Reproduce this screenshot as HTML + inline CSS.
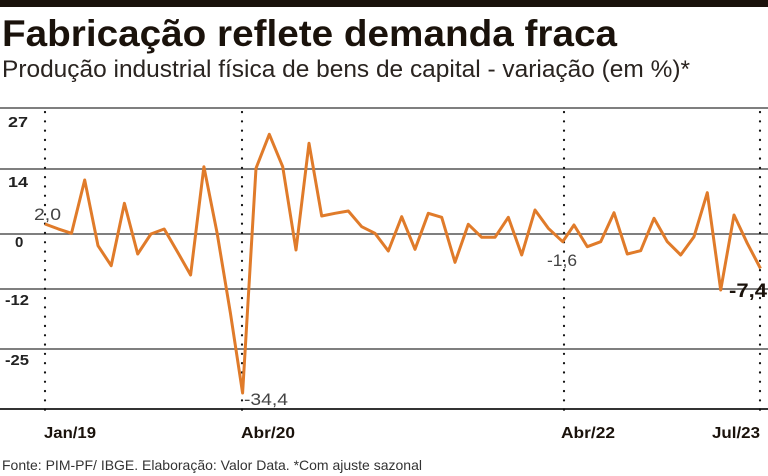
<!DOCTYPE html>
<html><head><meta charset="utf-8"><style>
html,body{margin:0;padding:0;background:#fff;}
svg{display:block;font-family:"Liberation Sans",sans-serif;}
</style></head><body>
<svg width="768" height="476" viewBox="0 0 768 476" xmlns="http://www.w3.org/2000/svg">
<rect x="0" y="0" width="768" height="7" fill="#1a120b"/>
<text x="2" y="46" font-size="37" font-weight="bold" fill="#1a120b" textLength="615" lengthAdjust="spacingAndGlyphs">Fabricação reflete demanda fraca</text>
<text x="2" y="77" font-size="24" fill="#2a2420" textLength="688" lengthAdjust="spacingAndGlyphs">Produção industrial física de bens de capital - variação (em %)*</text>
<g stroke="#555" stroke-width="1.6">
<line x1="0" y1="108" x2="768" y2="108"/>
<line x1="0" y1="169" x2="768" y2="169"/>
<line x1="0" y1="234" x2="768" y2="234"/>
<line x1="0" y1="289" x2="768" y2="289"/>
<line x1="0" y1="349" x2="768" y2="349"/>
<line x1="0" y1="409" x2="768" y2="409" stroke="#333" stroke-width="2"/>
</g>
<g stroke="#111" stroke-width="2.2" stroke-dasharray="0.1 9.2" stroke-linecap="round">
<line x1="45" y1="112" x2="45" y2="410"/>
<line x1="242" y1="112" x2="242" y2="410"/>
<line x1="564" y1="112" x2="564" y2="410"/>
<line x1="760" y1="112" x2="760" y2="410"/>
</g>
<g font-size="15" font-weight="bold" fill="#222">
<text x="8" y="127" textLength="20" lengthAdjust="spacingAndGlyphs">27</text>
<text x="8" y="187" textLength="20" lengthAdjust="spacingAndGlyphs">14</text>
<text x="15" y="247">0</text>
<text x="5" y="305" textLength="24" lengthAdjust="spacingAndGlyphs">-12</text>
<text x="5" y="365" textLength="24" lengthAdjust="spacingAndGlyphs">-25</text>
</g>
<g font-size="16" font-weight="bold" fill="#1a120b">
<text x="44" y="438" textLength="52" lengthAdjust="spacingAndGlyphs">Jan/19</text>
<text x="241" y="438" textLength="54" lengthAdjust="spacingAndGlyphs">Abr/20</text>
<text x="561" y="438" textLength="54" lengthAdjust="spacingAndGlyphs">Abr/22</text>
<text x="712" y="438" textLength="48" lengthAdjust="spacingAndGlyphs">Jul/23</text>
</g>
<polyline fill="none" stroke="#e07b2a" stroke-width="3" stroke-linejoin="round" points="45,224 58.2,228.9 71.5,233.3 84.7,180 98,245.7 111.2,265.7 124.4,203.3 137.7,254 150.9,234 164.2,229 177.4,251.7 190.6,275 203.9,166.7 217.1,233 230.4,313 242.6,393 256,168.3 269.3,134.3 282.7,166.7 296,250 309,143.3 321.7,216 335,213.3 348.3,211 361.7,226.7 375,233.3 388.3,251 401.7,216.7 415,249.3 428.3,213.3 441.7,217.3 455,262.3 468.3,224.3 481.7,237.3 495,237.3 508.3,217.3 521.7,255 535,210 548.3,228.3 562.7,241.7 574,225 587.3,246.7 600.7,241.7 614,212.7 627.3,254 640.7,250.7 654,218.3 667.3,241.7 680.7,255 694,236.7 707.3,192.7 720.7,290 734,215 747.3,243.3 760.5,268.5"/>
<g fill="#444" font-size="17">
<text x="34" y="220" textLength="27" lengthAdjust="spacingAndGlyphs">2,0</text>
<text x="547" y="266" textLength="30" lengthAdjust="spacingAndGlyphs">-1,6</text>
<text x="244" y="405" textLength="44" lengthAdjust="spacingAndGlyphs">-34,4</text>
</g>
<text x="729" y="297" font-size="19" font-weight="bold" fill="#1a120b" textLength="38" lengthAdjust="spacingAndGlyphs">-7,4</text>
<text x="2" y="470" font-size="14" fill="#333" textLength="420" lengthAdjust="spacingAndGlyphs">Fonte: PIM-PF/ IBGE. Elaboração: Valor Data. *Com ajuste sazonal</text>
</svg>
</body></html>
